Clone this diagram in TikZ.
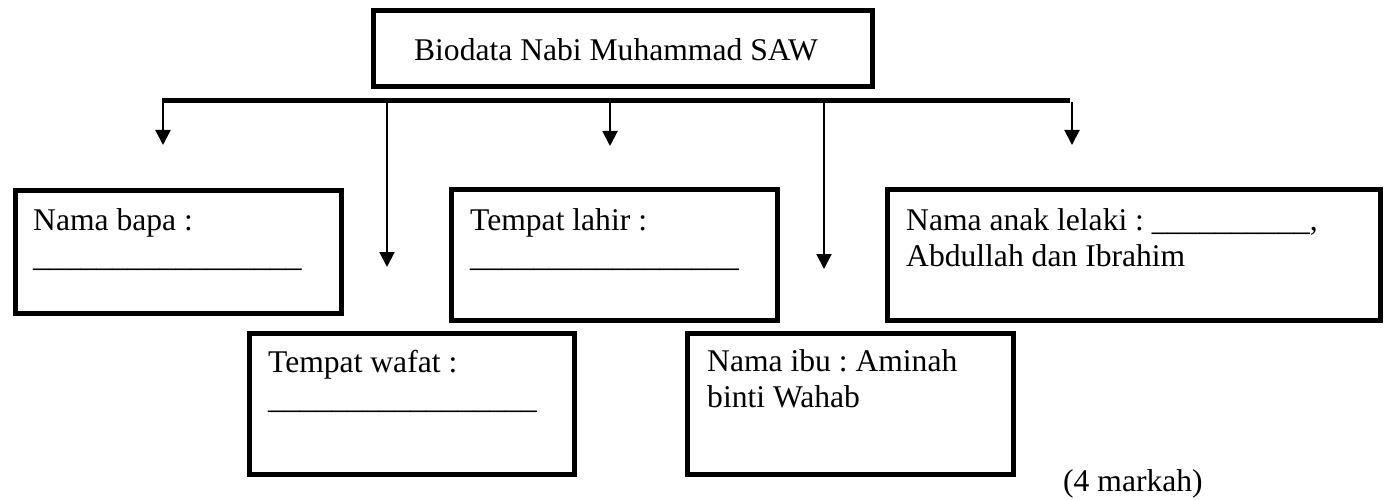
\documentclass[tikz,border=0pt]{standalone}
\usepackage{fontspec}
\setmainfont{Liberation Serif}
\usetikzlibrary{arrows.meta}
\frenchspacing
\newcommand\boxlines[1]{\parbox[t]{15cm}{\raggedright\frenchspacing\fontsize{31.6pt}{36pt}\selectfont #1}}
\tikzset{
  frame/.style={draw=black, line width=5pt, anchor=north west, inner sep=0pt},
  label/.style={inner sep=0pt, font=\fontsize{31.6pt}{36pt}\selectfont\frenchspacing},
  bar/.style={line width=5pt},
  pointer/.style={line width=2pt, -{Triangle[width=15pt,length=15pt]}}
}
\begin{document}
\begin{tikzpicture}[x=1pt,y=-1pt]
\useasboundingbox (0,0) rectangle (1385,500);
% boxes
\node[frame, minimum width=499pt, minimum height=76pt]  (title) at (370.5,8.5) {};
\node[frame, minimum width=326pt, minimum height=122pt] (bapa)  at (12.5,188.5) {};
\node[frame, minimum width=326pt, minimum height=130pt] (lahir) at (448.5,187.5) {};
\node[frame, minimum width=493pt, minimum height=130pt] (anak)  at (884.5,187.5) {};
\node[frame, minimum width=325pt, minimum height=141pt] (wafat) at (246.5,330.5) {};
\node[frame, minimum width=326pt, minimum height=141pt] (ibu)   at (684.5,330.5) {};
% texts
\node[label, anchor=base] (titleT) at (616,61) {Biodata Nabi Muhammad SAW};
\node[label, anchor=base west] (bapaT) at (33,230)
  {\boxlines{Nama bapa :\\ \_\_\_\_\_\_\_\_\_\_\_\_\_\_\_\_\_}};
\node[label, anchor=base west] (lahirT) at (470,230)
  {\boxlines{Tempat lahir :\\ \_\_\_\_\_\_\_\_\_\_\_\_\_\_\_\_\_}};
\node[label, anchor=base west] (anakT) at (906,230)
  {\boxlines{Nama anak lelaki : \_\_\_\_\_\_\_\_\_\_,\\ Abdullah dan Ibrahim}};
\node[label, anchor=base west] (wafatT) at (268,372)
  {\boxlines{Tempat wafat :\\ \_\_\_\_\_\_\_\_\_\_\_\_\_\_\_\_\_}};
\node[label, anchor=base west] (ibuT) at (707,371)
  {\boxlines{Nama ibu : Aminah\\ binti Wahab}};
\node[label, anchor=base west] (markah) at (1063,491) {(4 markah)};
% bar and arrows
\coordinate (barL) at (162,100.5);
\coordinate (barR) at (1070,100.5);
\draw[bar] (barL) -- (barR);
\coordinate (s1) at (163,100.5);  \coordinate (t1) at (163,145);
\coordinate (s2) at (387,100.5);  \coordinate (t2) at (387,267);
\coordinate (s3) at (610,100.5);  \coordinate (t3) at (610,146);
\coordinate (s4) at (824,100.5);  \coordinate (t4) at (824,269);
\coordinate (s5) at (1072,102);   \coordinate (t5) at (1072,145);
\draw[pointer] (s1) -- (t1);
\draw[pointer] (s2) -- (t2);
\draw[pointer] (s3) -- (t3);
\draw[pointer] (s4) -- (t4);
\draw[pointer] (s5) -- (t5);
\end{tikzpicture}
\end{document}
